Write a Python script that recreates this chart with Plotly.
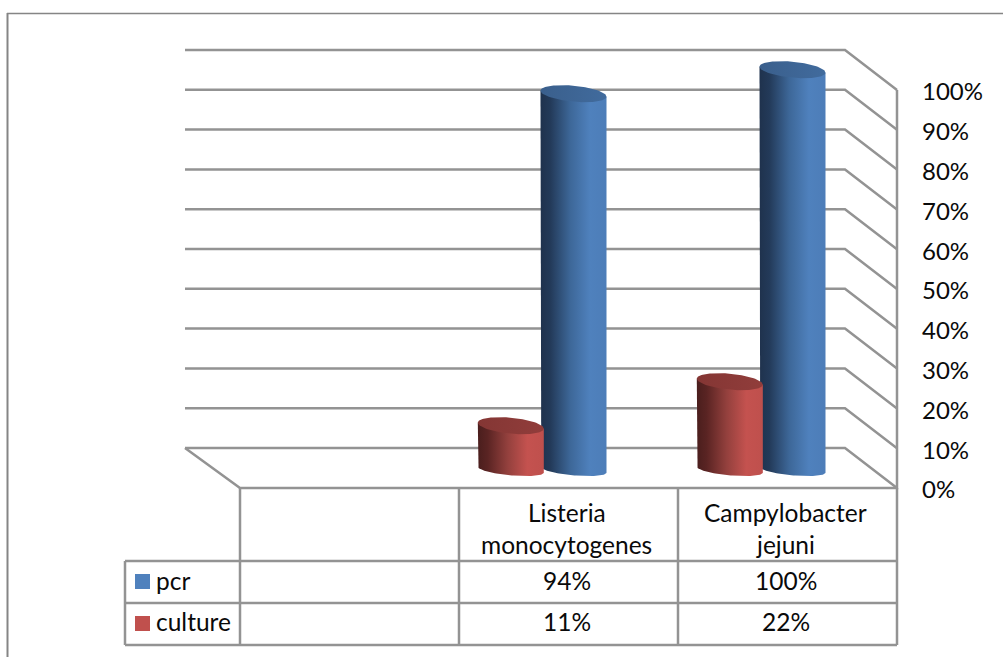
import numpy as np
import plotly.graph_objects as go

# Chart data
categories = ["", "Listeria\nmonocytogenes", "Campylobacter\njejuni"]
pcr = [None, 94, 100]
culture = [None, 11, 22]
tick_values = list(range(0, 101, 10))
tick_labels = [f"{v}%" for v in tick_values]

# Figure geometry
W, H = 1003, 657
COL_LEFT, COL_W = 240, 219
ZERO_PX, UNIT_PX = 488, 3.98
GRID = "#939393"
FONT = "Lato"
TEXT = "#0a0a0a"
BLUE_STOPS = [[0, "#1f324d"], [0.15, "#233a59"], [0.45, "#3d6798"], [0.75, "#4f81bd"], [1, "#4d7db8"]]
RED_STOPS = [[0, "#4a1e1d"], [0.15, "#5a2423"], [0.45, "#93403d"], [0.75, "#c4524f"], [1, "#bf504d"]]
BLUE_CAP = [[0, "#3a5f8c"], [1, "#416b9d"]]
RED_CAP = [[0, "#843634"], [1, "#913d3b"]]

# 3D box: depth offsets of the back wall, in axis units
DEPTH_Y = 40 / UNIT_PX
BACK_LEFT = (185 - COL_LEFT) / COL_W
BACK_RIGHT = (845 - COL_LEFT) / COL_W
FRONT_RIGHT = (897 - COL_LEFT) / COL_W

# Cylinder placement inside a category column
RED_OFFSET = 51.8 / COL_W
BLUE_OFFSET = 114.5 / COL_W
RADIUS = 33 / COL_W
BASE = (ZERO_PX - 469.7) / UNIT_PX
BAR_SCALE = 1.005  # bars stand nearer the viewer than the wall


def px(x):
    return x / W


def py(y):
    return (H - y) / H


def ellipse_y(centre, t, b_px, k_px=3.0):
    return centre - (b_px * np.sin(t) + k_px * np.cos(t)) / UNIT_PX


def cylinder(cx, value, body_stops, cap_stops, name):
    top = BASE + value * BAR_SCALE
    # Body outline: down the left side, along the front of the base, up the right side
    t_base = np.linspace(np.pi, 0, 60)
    xs = np.concatenate([[cx - RADIUS], cx + RADIUS * np.cos(t_base), [cx + RADIUS]])
    ys = np.concatenate([[ellipse_y(top, np.pi, 8)],
                         ellipse_y(BASE, t_base, 5.7),
                         [ellipse_y(top, 0, 8)]])
    body = go.Scatter(x=xs, y=ys, mode="lines", fill="toself", line=dict(width=0),
                      fillgradient=dict(type="horizontal", colorscale=body_stops),
                      hoverinfo="skip", showlegend=False, name=name)
    t_cap = np.linspace(0, 2 * np.pi, 100)
    cap = go.Scatter(x=cx + RADIUS * np.cos(t_cap), y=ellipse_y(top, t_cap, 8),
                     mode="lines", fill="toself", line=dict(width=0),
                     fillgradient=dict(type="horizontal", colorscale=cap_stops),
                     hoverinfo="skip", showlegend=False, name=name)
    return [body, cap]


fig = go.Figure()

# Back wall gridlines folding onto the right wall
for v in tick_values:
    fig.add_trace(go.Scatter(
        x=[BACK_LEFT, BACK_RIGHT, FRONT_RIGHT], y=[v + DEPTH_Y, v + DEPTH_Y, v],
        mode="lines", line=dict(color=GRID, width=2.5), hoverinfo="skip", showlegend=False))

# Floor edges and the right wall's front edge
fig.add_trace(go.Scatter(x=[BACK_LEFT, 0, FRONT_RIGHT, FRONT_RIGHT],
                         y=[DEPTH_Y, 0, 0, tick_values[-1]],
                         mode="lines", line=dict(color=GRID, width=2.5),
                         hoverinfo="skip", showlegend=False))

# Cylinders: the red one of each pair stands in front of the blue one
for i in range(len(categories)):
    if pcr[i] is not None:
        for tr in cylinder(i + BLUE_OFFSET, pcr[i], BLUE_STOPS, BLUE_CAP, "pcr"):
            fig.add_trace(tr)
    if culture[i] is not None:
        for tr in cylinder(i + RED_OFFSET, culture[i], RED_STOPS, RED_CAP, "culture"):
            fig.add_trace(tr)

# Outer frame and data table rules
def rule(x0, y0, x1, y1, width=2.5, color=GRID):
    return dict(type="line", xref="paper", yref="paper", x0=px(x0), y0=py(y0), x1=px(x1), y1=py(y1),
                line=dict(color=color, width=width), layer="below")


col_edges = [COL_LEFT + COL_W * i for i in range(len(categories) + 1)]
TABLE_LEFT, HEAD_BOTTOM, ROW_1, ROW_2 = 125, 561, 603, 645
shapes = [rule(7, 13.5, W, 13.5, 1.5, "#858585"), rule(7.5, 13, 7.5, H, 2, "#858585")]
for x in col_edges:
    shapes.append(rule(x, ZERO_PX, x, ROW_2))
for y in (HEAD_BOTTOM, ROW_1, ROW_2):
    shapes.append(rule(TABLE_LEFT, y, col_edges[-1], y))
shapes.append(rule(TABLE_LEFT, HEAD_BOTTOM, TABLE_LEFT, ROW_2))


def swatch(y, color):
    return dict(type="rect", xref="paper", yref="paper", x0=px(135), x1=px(150),
                y0=py(y - 7.5), y1=py(y + 7.5), fillcolor=color, line=dict(width=0))


ROW_Y = [581.5, 623.5]
TEXT_ROW_Y = [580.5, 621.5]
shapes += [swatch(ROW_Y[0], "#4f81bd"), swatch(ROW_Y[1], "#c0504d")]


def label(x, y, text, anchor="center"):
    return dict(xref="paper", yref="paper", x=px(x), y=py(y), text=text, showarrow=False,
                xanchor=anchor, yanchor="middle", font=dict(family=FONT, size=24.5, color=TEXT))


annotations = [label(154, TEXT_ROW_Y[0], "pcr", "left"), label(154, TEXT_ROW_Y[1], "culture", "left")]
for i, cat in enumerate(categories):
    centre = col_edges[i] + COL_W / 2 - 2
    for j, line in enumerate(cat.split("\n")):
        if line:
            annotations.append(label(centre, 512.5 + 32 * j, line))
    if pcr[i] is not None:
        annotations.append(label(centre, TEXT_ROW_Y[0], f"{pcr[i]}%"))
    if culture[i] is not None:
        annotations.append(label(centre, TEXT_ROW_Y[1], f"{culture[i]}%"))

fig.update_layout(
    width=W, height=H, margin=dict(l=0, r=0, t=0, b=0),
    paper_bgcolor="white", plot_bgcolor="white", showlegend=False,
    shapes=shapes, annotations=annotations,
    xaxis=dict(range=[-COL_LEFT / COL_W, (W - COL_LEFT) / COL_W], visible=False, fixedrange=True),
    yaxis=dict(range=[(ZERO_PX - H) / UNIT_PX, ZERO_PX / UNIT_PX],
               anchor="free", position=897 / W, side="right",
               tickmode="array", tickvals=tick_values, ticktext=tick_labels,
               ticklabelstandoff=24, ticklabelshift=2, ticks="", showline=False, showgrid=False, zeroline=False,
               tickfont=dict(family=FONT, size=24, color=TEXT), fixedrange=True),
)

fig.write_html("out.html")
